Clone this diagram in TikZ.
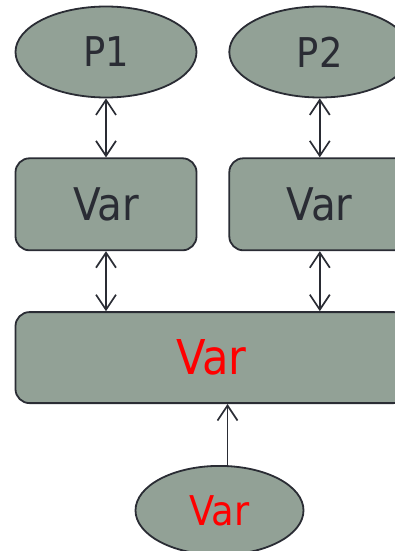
\documentclass[tikz,border=0pt]{standalone}
\usepackage{fontspec}
\setmainfont{DejaVu Sans Condensed}
\usepackage{xcolor}
\usepackage{tikz}
\usetikzlibrary{shapes.geometric, arrows.meta, positioning}

\definecolor{sage}{RGB}{146,161,150}
\definecolor{ink}{RGB}{42,44,52}
\definecolor{hot}{RGB}{255,0,0}

\begin{document}
\begin{tikzpicture}[
    x=1pt, y=-1pt,
    proc/.style={ellipse, draw=ink, fill=sage, line width=1.8pt, minimum width=181pt, minimum height=91pt, inner sep=0pt, text=ink, font=\fontsize{41}{48}\selectfont},
    varbox/.style={rectangle, draw=ink, fill=sage, line width=1.8pt, rounded corners=14pt, minimum width=181pt, minimum height=92pt, inner sep=0pt, text=ink, font=\fontsize{45}{52}\selectfont},
    bigbox/.style={varbox, minimum width=392pt, minimum height=91pt, text=hot, font=\fontsize{48}{56}\selectfont},
    src/.style={proc, minimum width=168pt, minimum height=89pt, text=hot},
    arr/.style={-{Straight Barb[length=15pt, width=20pt]}, line width=1.7pt, draw=ink},
    dualarr/.style={{Straight Barb[length=15pt, width=20pt]}-{Straight Barb[length=15pt, width=20pt]}, line width=1.7pt, draw=ink},
]
    \clip (0,0) rectangle (395,551);

    % Processes (top row)
    \node[proc] (p1) at (106,52) {P1};
    \node[proc, right=31pt of p1] (p2) {P2};

    % Local variables
    \node[varbox, below=59pt of p1] (var1) {Var};
    \node[varbox, right=31pt of var1] (var2) {Var};

    % Shared variable
    \node[bigbox, below right=60pt and 0pt of var1.south west] (shared) {Var};

    % Input (bottom)
    \node[src, below=61pt of shared, xshift=8pt] (input) {Var};

    % Arrows
    \draw[dualarr] (p1) -- (var1);
    \draw[dualarr] (p2) -- (var2);
    \draw[dualarr] (var1) -- (var1 |- shared.north);
    \draw[dualarr] (var2) -- (var2 |- shared.north);
    \coordinate (feed) at ([xshift=8pt]input.north);
    \draw[arr] (feed) -- (feed |- shared.south);
\end{tikzpicture}
\end{document}
